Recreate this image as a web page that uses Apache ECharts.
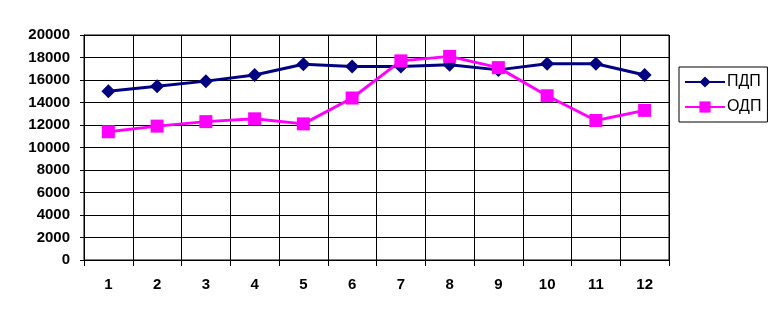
<!DOCTYPE html>
<html>
<head>
<meta charset="utf-8">
<script src="https://cdn.jsdelivr.net/npm/echarts@6/dist/echarts.min.js"></script>
<style>
  html, body { margin: 0; padding: 0; background: #fff; }
  #chart { width: 777px; height: 321px; }
</style>
</head>
<body>
<div id="chart"></div>
<script>
// данные по месяцам
const months = ['1', '2', '3', '4', '5', '6', '7', '8', '9', '10', '11', '12'];
const pdp = [15000, 15450, 15900, 16450, 17400, 17200, 17200, 17350, 16900, 17450, 17450, 16450];
const odp = [11400, 11900, 12300, 12550, 12100, 14400, 17700, 18100, 17100, 14600, 12400, 13300];

const chart = echarts.init(document.getElementById('chart'));

const labelFont = {
    fontFamily: 'Liberation Sans, Arial, sans-serif',
    fontWeight: 'bold',
    fontSize: 15,
    color: '#000'
};

chart.setOption({
    animation: false,
    backgroundColor: '#fff',
    grid: {
        left: 84, right: 108, top: 35, bottom: 61,
        show: true, borderColor: '#000', borderWidth: 1
    },
    legend: {
        orient: 'vertical',
        left: 679, top: 67,
        padding: [7, 6, 7, 5],
        itemGap: 9,
        itemWidth: 40,
        itemHeight: 14,
        borderColor: '#000',
        borderWidth: 1,
        textStyle: {
            fontFamily: 'Liberation Sans, Arial, sans-serif',
            fontSize: 16,
            color: '#000',
            padding: [0, 0, 0, -3]
        },
        data: ['ПДП', 'ОДП']
    },
    xAxis: {
        type: 'category',
        data: months,
        boundaryGap: true,
        axisLine: { lineStyle: { color: '#000', width: 1 } },
        axisTick: { show: true, length: 6, alignWithLabel: false, lineStyle: { color: '#000' } },
        splitLine: { show: true, interval: 0, lineStyle: { color: '#000', width: 1 } },
        axisLabel: Object.assign({ margin: 17, interval: 0 }, labelFont)
    },
    yAxis: {
        type: 'value',
        min: 0, max: 20000, interval: 2000,
        axisLine: { show: true, lineStyle: { color: '#000', width: 1 } },
        axisTick: { show: true, length: 4, lineStyle: { color: '#000' } },
        splitLine: { show: true, lineStyle: { color: '#000', width: 1 } },
        axisLabel: Object.assign({ margin: 14, formatter: v => String(v) }, labelFont)
    },
    series: [
        {
            name: 'ПДП',
            type: 'line',
            data: pdp,
            symbol: 'diamond',
            symbolSize: 14,
            color: '#000080',
            lineStyle: { width: 3, color: '#000080' },
            itemStyle: { color: '#000080' }
        },
        {
            name: 'ОДП',
            type: 'line',
            data: odp,
            symbol: 'rect',
            symbolSize: 13,
            color: '#ff00ff',
            lineStyle: { width: 3, color: '#ff00ff' },
            itemStyle: { color: '#ff00ff' }
        }
    ]
});
</script>
</body>
</html>
